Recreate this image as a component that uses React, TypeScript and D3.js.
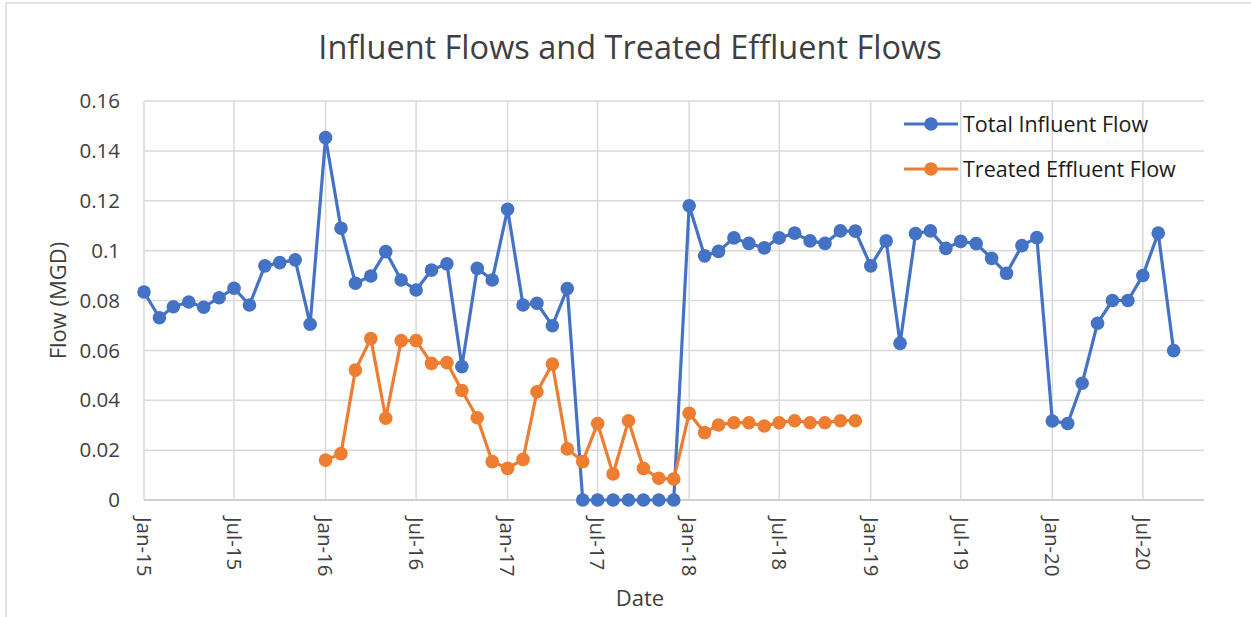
import React from 'react';
import * as d3 from 'd3';

// monthly readings, Jan-15 .. Sep-20 (MGD)
const influentStart = new Date(2015, 0, 1);
const influentFlow = [
  0.0834, 0.0731, 0.0775, 0.0794, 0.0773, 0.0811, 0.0849, 0.0782, 0.0939, 0.0952, 0.0963, 0.0705,
  0.1453, 0.109, 0.0869, 0.0898, 0.0996, 0.0882, 0.0842, 0.0922, 0.0947, 0.0535, 0.0929, 0.0882,
  0.1166, 0.0782, 0.0789, 0.0699, 0.0848, 0, 0, 0, 0, 0, 0, 0,
  0.118, 0.0979, 0.0997, 0.1051, 0.1029, 0.1011, 0.1051, 0.107, 0.1039, 0.1029, 0.1079, 0.1078,
  0.0939, 0.1039, 0.0628, 0.1068, 0.1079, 0.1009, 0.1037, 0.1028, 0.0969, 0.0909, 0.102, 0.1052,
  0.0317, 0.0307, 0.0468, 0.0709, 0.080, 0.080, 0.090, 0.107, 0.0599,
];

// monthly readings, Jan-16 .. Dec-18 (MGD)
const effluentStart = new Date(2016, 0, 1);
const effluentFlow = [
  0.016, 0.0186, 0.0521, 0.0647, 0.0328, 0.0639, 0.0639, 0.0548, 0.0551, 0.0439, 0.033, 0.0154,
  0.0127, 0.0163, 0.0434, 0.0545, 0.0205, 0.0154, 0.0307, 0.0104, 0.0318, 0.0127, 0.0087, 0.0084,
  0.0348, 0.027, 0.0301, 0.031, 0.031, 0.0297, 0.031, 0.0318, 0.031, 0.031, 0.0318, 0.0318,
];

const yTicks = [0, 0.02, 0.04, 0.06, 0.08, 0.1, 0.12, 0.14, 0.16];
const seriesNames = ['Total Influent Flow', 'Treated Effluent Flow'];
const seriesColors = ['#4472C4', '#ED7D31'];

type Pt = { date: Date; value: number };

const toPoints = (start: Date, values: number[]): Pt[] =>
  values.map((v, i) => ({ date: d3.timeMonth.offset(start, i), value: v }));

const FONT = '"Open Sans", "Noto Sans", sans-serif';

export default function App() {
  const width = 1251;
  const height = 617;
  const margin = { top: 101, right: 47, bottom: 117, left: 144 };

  const x = d3.scaleTime()
    .domain([new Date(2015, 0, 1), new Date(2020, 10, 1)])
    .range([margin.left, width - margin.right]);
  const y = d3.scaleLinear()
    .domain([0, 0.16])
    .range([height - margin.bottom, margin.top]);

  const xTicks = d3.timeMonth.every(6)!.range(new Date(2015, 0, 1), new Date(2020, 10, 1));
  const fmt = d3.timeFormat('%b-%y');

  const series = [toPoints(influentStart, influentFlow), toPoints(effluentStart, effluentFlow)];
  const line = d3.line<Pt>().x(d => x(d.date)).y(d => y(d.value));

  const [x0, x1] = x.range();
  const [yBottom, yTop] = y.range();

  return (
    <div style={{ position: 'absolute', left: 0, top: 0 }}>
      <svg width={width} height={height} style={{ display: 'block', background: '#fff' }}>
        {/* chart area border */}
        <line x1={6} y1={3} x2={width} y2={3} stroke="#d9d9d9" strokeWidth={1.5} />
        <line x1={6} y1={3} x2={6} y2={height} stroke="#d9d9d9" strokeWidth={1.5} />

        <text x={630} y={59} textAnchor="middle" fontFamily={FONT} fontSize={32.5} fill="#404040">
          Influent Flows and Treated Effluent Flows
        </text>

        {/* gridlines */}
        {yTicks.map(t => (
          <line key={'h' + t} x1={x0} x2={x1} y1={y(t)} y2={y(t)}
            stroke={t === 0 ? '#bfbfbf' : '#d9d9d9'} strokeWidth={1.5} />
        ))}
        {xTicks.map(t => (
          <line key={'v' + t.getTime()} x1={x(t)} x2={x(t)} y1={yTop} y2={yBottom}
            stroke="#d9d9d9" strokeWidth={1.5} />
        ))}

        {/* y axis labels */}
        {yTicks.map(t => (
          <text key={'yl' + t} x={120} y={y(t)} dy="0.35em" textAnchor="end"
            fontFamily={FONT} fontSize={20.5} fill="#404040">
            {d3.format('~g')(t)}
          </text>
        ))}
        <text transform={`translate(58,${(yTop + yBottom) / 2}) rotate(-90)`} textAnchor="middle"
          dy="0.35em" fontFamily={FONT} fontSize={22} fill="#404040">
          Flow (MGD)
        </text>

        {/* x axis labels */}
        {xTicks.map(t => (
          <text key={'xl' + t.getTime()} transform={`translate(${x(t)},${yBottom + 17}) rotate(90)`}
            dy="0.35em" fontFamily={FONT} fontSize={20.5} fill="#404040">
            {fmt(t)}
          </text>
        ))}
        <text x={640} y={606} textAnchor="middle" fontFamily={FONT} fontSize={22} fill="#404040">
          Date
        </text>

        {/* series */}
        {series.map((pts, i) => (
          <g key={'s' + i}>
            <path d={line(pts) || ''} fill="none" stroke={seriesColors[i]} strokeWidth={3.2} strokeLinejoin="round" />
            {pts.map((p, j) => (
              <circle key={j} cx={x(p.date)} cy={y(p.value)} r={6.8} fill={seriesColors[i]} />
            ))}
          </g>
        ))}

        {/* legend */}
        {seriesNames.map((name, i) => {
          const ly = 124 + i * 45;
          return (
            <g key={'lg' + i}>
              <line x1={904} x2={958} y1={ly} y2={ly} stroke={seriesColors[i]} strokeWidth={3.2} />
              <circle cx={931} cy={ly} r={6.8} fill={seriesColors[i]} />
              <text x={963} y={ly} dy="0.35em" fontFamily={FONT} fontSize={21.5} fill="#1a1a1a">
                {name}
              </text>
            </g>
          );
        })}
      </svg>
    </div>
  );
}
